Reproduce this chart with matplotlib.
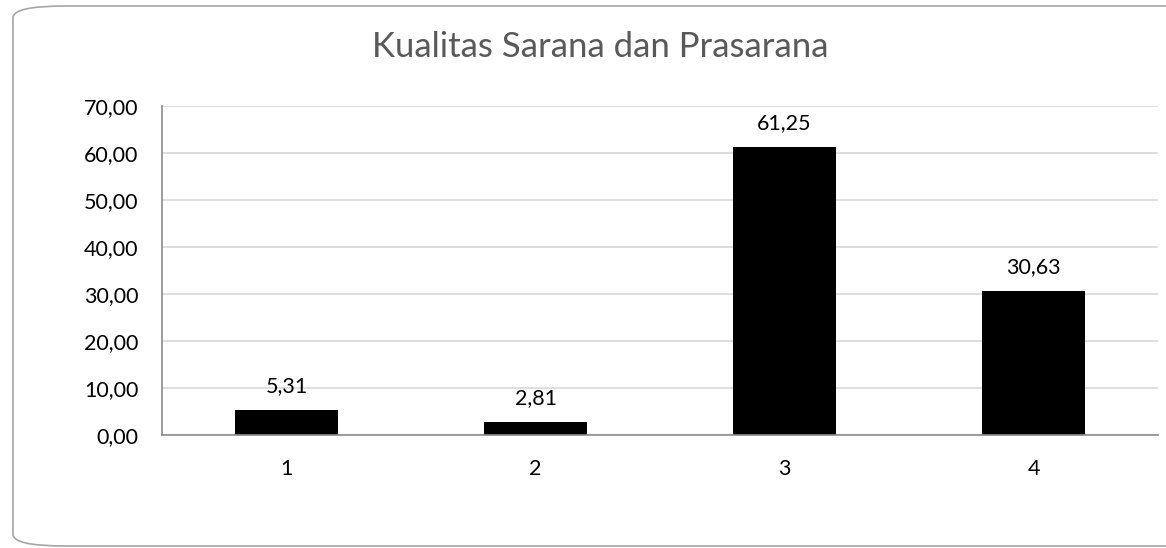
import matplotlib.pyplot as plt
from matplotlib.patches import FancyBboxPatch

plt.rcParams['font.family'] = ['Lato', 'DejaVu Sans']

categories = ['1', '2', '3', '4']
values = [5.31, 2.81, 61.25, 30.63]
title = 'Kualitas Sarana dan Prasarana'


def fmt(v):
    return '{:.2f}'.format(v).replace('.', ',')


fig = plt.figure(figsize=(11.66, 5.48), dpi=100)

# rounded chart border (right side runs off the picture)
border = FancyBboxPatch((13 / 1166, 2 / 548), 1250 / 1166, 540 / 548,
                        boxstyle='round,pad=0,rounding_size=0.045',
                        transform=fig.transFigure, fill=False,
                        edgecolor='#a6a6a6', linewidth=1.2, mutation_aspect=548 / 1166)
fig.patches.append(border)

ax = fig.add_axes([162 / 1166, 113 / 548, 996 / 1166, 329 / 548])
x = range(len(categories))
bars = ax.bar(x, values, width=0.41, color='black', zorder=3)

ax.set_xlim(-0.5, len(categories) - 0.5)
ax.set_ylim(0, 70)
ax.set_yticks(range(0, 71, 10))
ax.set_yticklabels([fmt(t) for t in range(0, 71, 10)])
ax.set_xticks(list(x))
ax.set_xticklabels(categories)
ax.tick_params(axis='y', length=0, pad=17, labelsize=15.5)
ax.tick_params(axis='x', length=0, pad=17, labelsize=15.5)

ax.grid(axis='y', color='#d9d9d9', linewidth=1.2, zorder=0)
for s in ['top', 'right']:
    ax.spines[s].set_visible(False)
for s in ['left', 'bottom']:
    ax.spines[s].set_color('#8c8c8c')
    ax.spines[s].set_linewidth(1.2)
    ax.spines[s].set_zorder(4)

for b, v in zip(bars, values):
    ax.annotate(fmt(v), (b.get_x() + b.get_width() / 2, v),
                xytext=(0, 10), textcoords='offset points',
                ha='center', va='bottom', fontsize=15.5)

fig.text(600 / 1166, 1 - 47 / 548, title, ha='center', va='center',
         fontsize=25, color='#595959')

fig.savefig('out.png', dpi=100)
